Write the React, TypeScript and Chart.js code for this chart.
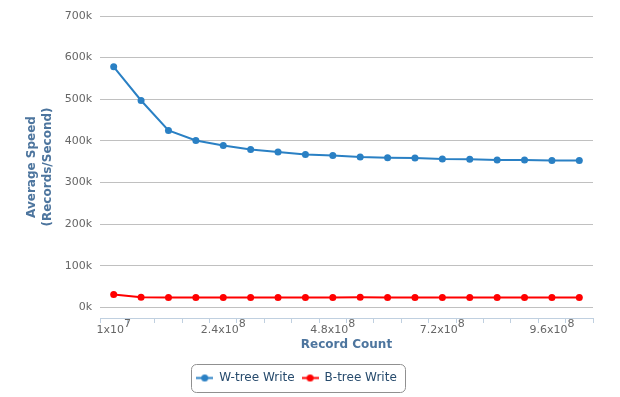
import React, { useEffect, useRef } from 'react';
import { Chart, registerables } from 'chart.js';

Chart.register(...registerables);

// category labels written as mantissa x 10^exponent
const categories = [
  '1x10^7', '6x10^7', '1.2x10^8', '1.8x10^8', '2.4x10^8', '3x10^8', '3.6x10^8', '4.2x10^8', '4.8x10^8',
  '5.4x10^8', '6x10^8', '6.6x10^8', '7.2x10^8', '7.8x10^8', '8.4x10^8', '9x10^8', '9.6x10^8', '1.02x10^9',
];
const wTreeWrite = [
  578000, 497000, 425000, 401000, 389000, 379000, 373000, 367000, 365000,
  361000, 359500, 359000, 356500, 355800, 354000, 354000, 352500, 352500,
];
const bTreeWrite = [
  31000, 24000, 23500, 23500, 23500, 23500, 23500, 23500, 23500,
  24000, 23500, 23500, 23500, 23500, 23500, 23500, 23500, 23500,
];
const yTickValues = [0, 100000, 200000, 300000, 400000, 500000, 600000, 700000];
const labelEvery = 4;

const BLUE = '#2a80c4';
const RED = '#ff0000';
const TITLE_COLOR = '#4d759e';
const LABEL_COLOR = '#666666';
const FONT = "'DejaVu Sans', sans-serif";

function legendMarker(color: string) {
  const c = document.createElement('canvas');
  c.width = 17;
  c.height = 9;
  const g = c.getContext('2d')!;
  g.strokeStyle = color;
  g.lineWidth = 2;
  g.beginPath();
  g.moveTo(0, 4.5);
  g.lineTo(17, 4.5);
  g.stroke();
  g.fillStyle = color;
  g.beginPath();
  g.arc(8.5, 4.5, 3.5, 0, Math.PI * 2);
  g.fill();
  return c;
}

const legendBorder = {
  id: 'legendBorder',
  afterDraw(chart: any) {
    const lg = chart.legend;
    if (!lg || !lg.legendHitBoxes || !lg.legendHitBoxes.length) return;
    const boxes = lg.legendHitBoxes;
    const l = Math.min(...boxes.map((b: any) => b.left)) - 5;
    const r = Math.max(...boxes.map((b: any) => b.left + b.width)) + 8;
    const t = Math.min(...boxes.map((b: any) => b.top)) - 8;
    const btm = Math.max(...boxes.map((b: any) => b.top + b.height)) + 8;
    const ctx = chart.ctx;
    ctx.save();
    ctx.strokeStyle = '#909090';
    ctx.lineWidth = 1;
    ctx.beginPath();
    ctx.roundRect(Math.round(l) + 0.5, Math.round(t) + 0.5, Math.round(r - l), Math.round(btm - t), 5);
    ctx.stroke();
    ctx.restore();
  },
};

// draws x tick labels with a raised exponent, at the positions given by the category scale
const powerLabels = {
  id: 'powerLabels',
  afterDraw(chart: any) {
    const scale = chart.scales.x;
    const ctx = chart.ctx;
    ctx.save();
    ctx.fillStyle = LABEL_COLOR;
    ctx.textBaseline = 'alphabetic';
    ctx.textAlign = 'left';
    const baseY = scale.top + 15;
    ctx.font = `11px ${FONT}`;
    categories.forEach((lab, i) => {
      if (i % labelEvery !== 0) return;
      const [base, exp] = lab.split('^');
      const wb = ctx.measureText(base).width;
      const we = ctx.measureText(exp).width;
      const x = scale.getPixelForTick(i) - (wb + we) / 2;
      ctx.fillText(base, x, baseY);
      ctx.fillText(exp, x + wb, baseY - 6);
    });
    ctx.restore();
  },
};

export default function App() {
  const ref = useRef<HTMLCanvasElement>(null);

  useEffect(() => {
    if (!ref.current) return;
    Chart.defaults.font.family = FONT;
    const markers = [legendMarker(BLUE), legendMarker(RED)];
    const chart = new Chart(ref.current, {
      type: 'line',
      data: {
        labels: categories,
        datasets: [
          {
            label: 'W-tree Write',
            data: wTreeWrite,
            borderColor: BLUE,
            backgroundColor: BLUE,
            pointBackgroundColor: BLUE,
            borderWidth: 2,
            pointRadius: 3.5,
            pointHoverRadius: 3.5,
            pointBorderWidth: 0,
            tension: 0,
          },
          {
            label: 'B-tree Write',
            data: bTreeWrite,
            borderColor: RED,
            backgroundColor: RED,
            pointBackgroundColor: RED,
            borderWidth: 2,
            pointRadius: 3.5,
            pointHoverRadius: 3.5,
            pointBorderWidth: 0,
            tension: 0,
          },
        ],
      },
      options: {
        animation: false,
        responsive: false,
        layout: { padding: { left: 0, right: 27, top: 16, bottom: 3 } },
        plugins: {
          tooltip: { enabled: false },
          legend: {
            position: 'bottom',
            labels: {
              usePointStyle: true,
              pointStyleWidth: 17,
              padding: 7,
              color: '#274b6d',
              font: { size: 12 },
              generateLabels: (ch: any) => {
                const items = Chart.defaults.plugins.legend.labels.generateLabels(ch);
                return items.map((it: any, i: number) => ({ ...it, pointStyle: markers[i], fontColor: '#274b6d' }));
              },
            },
          },
        },
        scales: {
          x: {
            type: 'category',
            offset: true,
            grid: {
              display: true,
              drawOnChartArea: false,
              drawTicks: true,
              tickLength: 5,
              color: '#C0D0E0',
              offset: true,
            },
            border: { display: true, color: '#C0D0E0' },
            ticks: {
              display: false,
              autoSkip: false,
              maxRotation: 0,
              minRotation: 0,
            },
            title: {
              display: true,
              text: 'Record Count',
              color: TITLE_COLOR,
              font: { size: 12, weight: 'bold' },
              padding: { top: 4, bottom: 13 },
            },
            afterFit: (s: any) => {
              s.height = 47;
            },
          },
          y: {
            min: -25700,
            max: 700000,
            afterBuildTicks: (s: any) => {
              s.ticks = yTickValues.map((v) => ({ value: v }));
            },
            grid: { color: '#C0C0C0', drawTicks: false, lineWidth: 1 },
            border: { display: false },
            ticks: {
              color: LABEL_COLOR,
              font: { size: 11 },
              padding: 8,
              callback: (v: any) => Number(v) / 1000 + 'k',
            },
            title: {
              display: true,
              text: ['Average Speed', '(Records/Second)'],
              color: TITLE_COLOR,
              font: { size: 12, weight: 'bold', lineHeight: 16 / 12 },
              padding: { top: 24, bottom: 0 },
            },
            afterFit: (s: any) => {
              s.width = 100;
            },
          },
        },
      },
      plugins: [legendBorder, powerLabels],
    } as any);
    return () => chart.destroy();
  }, []);

  return (
    <div style={{ position: 'absolute', left: 0, top: 0, width: 620, height: 397 }}>
      <canvas ref={ref} width={620} height={397} style={{ display: 'block' }} />
    </div>
  );
}
